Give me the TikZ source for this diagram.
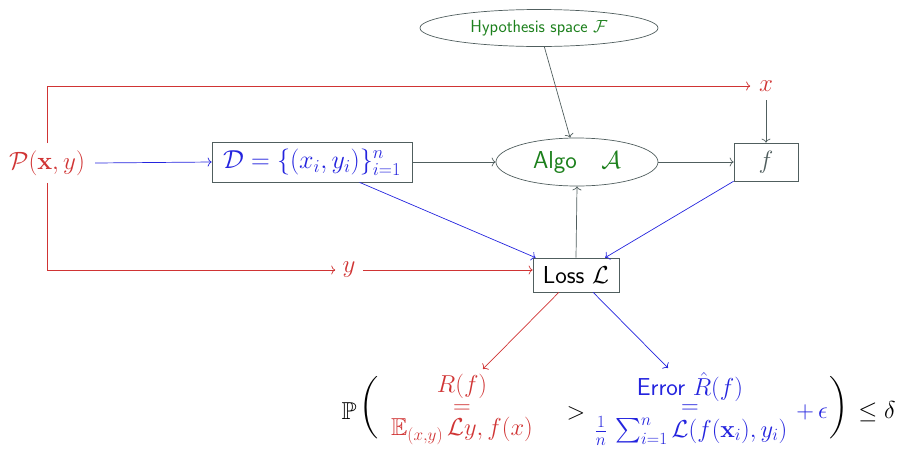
\documentclass[tikz,border=0pt]{standalone}
\usepackage{fix-cm}
\usepackage{amsmath,amssymb}
\usetikzlibrary{shapes.geometric,arrows.meta,calc}
\definecolor{myred}{RGB}{208,52,52}
\definecolor{myblue}{RGB}{36,36,222}
\definecolor{mygreen}{RGB}{28,128,28}
\definecolor{mygray}{RGB}{80,94,94}
\begin{document}
\begin{tikzpicture}[x=1pt,y=-1pt,
  >={To[length=4pt,width=9pt]},
  every path/.style={line width=0.7pt},
  big/.style={font=\fontsize{25}{30}\selectfont},
  bigsf/.style={font=\fontsize{24.5}{29}\selectfont\sffamily},
  boxn/.style={draw=mygray,rectangle,inner sep=0pt},
  elln/.style={draw=mygray,ellipse,inner sep=0pt},
  fml/.style={font=\fontsize{24.5}{29}\selectfont,inner sep=0pt},
  redl/.style={draw=myred,->},
  bluel/.style={draw=myblue,->},
  grayl/.style={draw=mygray,->}]
\useasboundingbox (0,0) rectangle (900,448);

\node[elln,minimum width=238pt,minimum height=37pt,text=mygreen,
  font=\fontsize{17.5}{21}\selectfont\sffamily] (hyp) at (539,28) {Hypothesis space $\mathcal{F}$};
\node[big,text=myred,inner xsep=10pt,inner ysep=7pt] (P) at (47,163) {$\mathcal{P}(\mathbf{x},y)$};
\node[boxn,text=myblue,minimum width=200pt,minimum height=40pt,font=\fontsize{26}{30}\selectfont] (D) at (312,162) {$\mathcal{D}=\{(x_i,y_i)\}_{i=1}^n$};
\node[elln,bigsf,text=mygreen,minimum width=162pt,minimum height=48pt] (algo) at (577,162) {Algo\quad$\mathcal{A}$};
\node[boxn,big,text=mygray,minimum width=64pt,minimum height=38pt] (f) at (766,162) {$f$};
\node[big,text=myred,inner sep=8.5pt] (xl) at (766,86) {$x$};
\node[big,text=myred,inner sep=7pt] (yl) at (349,270) {$y$};
\node[boxn,bigsf,text=black,minimum width=86pt,minimum height=34pt] (loss) at (576,275) {Loss $\mathcal{L}$};

\coordinate (rt) at (483,369);
\coordinate (et) at (668,368);

% formula
\node[fml] (PP) at (349,411) {$\mathbb{P}$};
\node[fml,font=\fontsize{26}{30}\selectfont] (lp) at (369,408) {$\bigg($};
\node[fml,text=myred] (R1) at (462,386) {$R(f)$};
\node[fml,text=myred] (R2) at (462,409) {$=$};
\node[fml,text=myred] (R3) at (462,431) {$\mathbb{E}_{(x,y)}\,\mathcal{L}y,f(x)$};
\node[fml] (gt) at (576,413) {$>$};
\node[fml,text=myblue] (E1) at (690,387) {\sffamily Error $\hat{R}(f)$};
\node[fml,text=myblue] (E2) at (690,409) {$=$};
\node[fml,text=myblue] (E3) at (691,431) {$\frac{1}{n}\,\sum_{i=1}^n\mathcal{L}(f(\mathbf{x}_i),y_i)$};
\node[fml,text=myblue] (pe) at (812,412) {$+\,\epsilon$};
\node[fml,font=\fontsize{26}{30}\selectfont] (rp) at (839,408) {$\bigg)$};
\node[fml] (le) at (877,412) {$\leq\delta$};

% connectors
\draw[redl] (P.north) |- (xl.west);
\draw[redl] (P.south) |- (yl.west);
\draw[redl] (yl.east) -- (yl.east -| loss.west);
\draw[bluel] (P.east) -- (D.west);
\draw[grayl] (D.east) -- (algo.west);
\draw[grayl] (hyp) -- (algo);
\draw[grayl] (algo.east) -- (f.west);
\draw[grayl] (xl.south) -- (f.north);
\draw[bluel] (D) -- (loss);
\draw[bluel] (f) -- (loss);
\draw[grayl] (loss.north) -- (algo.south);
\draw[redl] (loss) -- (rt);
\draw[bluel] (loss) -- (et);
\end{tikzpicture}
\end{document}
